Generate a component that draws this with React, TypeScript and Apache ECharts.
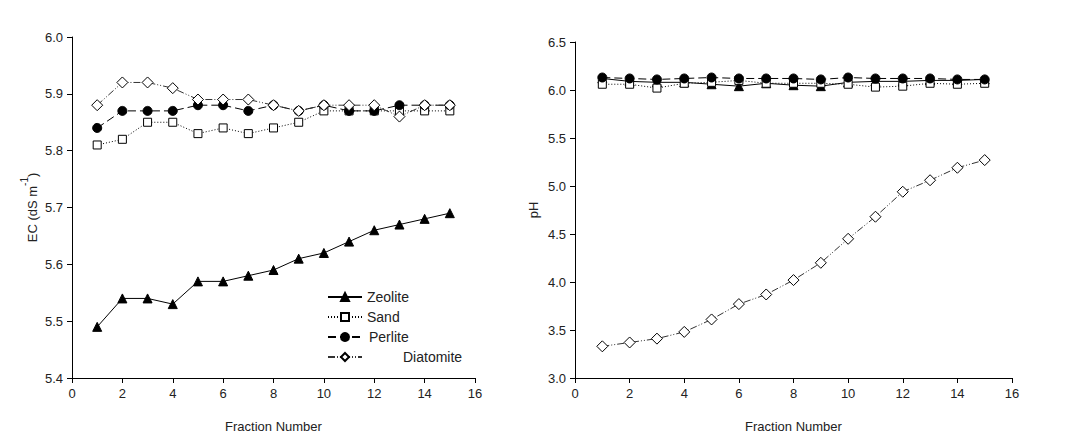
import React, { useEffect, useRef } from "react";
import * as echarts from "echarts";

const fractions = [1, 2, 3, 4, 5, 6, 7, 8, 9, 10, 11, 12, 13, 14, 15];

const ecZeolite = [5.49, 5.54, 5.54, 5.53, 5.57, 5.57, 5.58, 5.59, 5.61, 5.62, 5.64, 5.66, 5.67, 5.68, 5.69];
const ecSand = [5.81, 5.82, 5.85, 5.85, 5.83, 5.84, 5.83, 5.84, 5.85, 5.87, 5.87, 5.87, 5.87, 5.87, 5.87];
const ecPerlite = [5.84, 5.87, 5.87, 5.87, 5.88, 5.88, 5.87, 5.88, 5.87, 5.88, 5.87, 5.87, 5.88, 5.88, 5.88];
const ecDiatomite = [5.88, 5.92, 5.92, 5.91, 5.89, 5.89, 5.89, 5.88, 5.87, 5.88, 5.88, 5.88, 5.86, 5.88, 5.88];

const phZeolite = [6.12, 6.09, 6.08, 6.08, 6.06, 6.04, 6.07, 6.05, 6.04, 6.08, 6.09, 6.09, 6.1, 6.1, 6.11];
const phSand = [6.06, 6.06, 6.02, 6.07, 6.08, 6.1, 6.07, 6.07, 6.07, 6.06, 6.03, 6.04, 6.07, 6.06, 6.07];
const phPerlite = [6.13, 6.12, 6.11, 6.12, 6.13, 6.12, 6.12, 6.12, 6.11, 6.13, 6.12, 6.12, 6.12, 6.11, 6.11];
const phDiatomite = [3.33, 3.37, 3.41, 3.48, 3.61, 3.77, 3.87, 4.02, 4.2, 4.45, 4.68, 4.94, 5.06, 5.19, 5.27];

const seriesNames = ["Zeolite", "Sand", "Perlite", "Diatomite"];

const FONT = "Liberation Sans, Arial, sans-serif";

const styles: Record<string, any> = {
  Zeolite: { symbol: "triangle", symbolSize: 9, filled: true, lineType: "solid", lineColor: "#000" },
  Sand: { symbol: "rect", symbolSize: 8, filled: false, lineType: [1, 2], lineColor: "#000" },
  Perlite: { symbol: "circle", symbolSize: 9, filled: true, lineType: [8, 4], lineColor: "#000" },
  Diatomite: { symbol: "diamond", symbolSize: 11, filled: false, lineType: [7, 2, 1, 2, 1, 2], lineColor: "#333" },
};

function makeSeries(name: string, values: number[], idx: number) {
  const s = styles[name];
  return {
    type: "line",
    name,
    xAxisIndex: idx,
    yAxisIndex: idx,
    data: fractions.map((f, i) => [f, values[i]]),
    symbol: s.symbol,
    symbolSize: s.symbolSize,
    showAllSymbol: true,
    lineStyle: { color: s.lineColor, width: 1, type: s.lineType },
    itemStyle: {
      color: s.filled ? "#000" : "#fff",
      borderColor: "#000",
      borderWidth: 1,
    },
    z: name === "Diatomite" ? 3 : 2,
  };
}

const axisCommon = {
  axisLine: { show: true, lineStyle: { color: "#000", width: 1 } },
  axisTick: { show: true, inside: false, length: 5, lineStyle: { color: "#000" } },
  splitLine: { show: false },
  axisLabel: { color: "#222", fontSize: 13, fontFamily: FONT },
  nameTextStyle: { color: "#222", fontSize: 13, fontFamily: FONT },
};

const legendPad: Record<string, number> = { Zeolite: 0, Sand: 0, Perlite: 2, Diatomite: 36 };

export default function App() {
  const ref = useRef<HTMLDivElement>(null);
  useEffect(() => {
    document.body.style.margin = "0";
    const chart = echarts.init(ref.current!, null, { renderer: "svg" });
    chart.setOption({
      animation: false,
      backgroundColor: "#fff",
      grid: [
        { left: 72, top: 37, width: 403, height: 341 },
        { left: 575, top: 42, width: 437, height: 336 },
      ],
      xAxis: [0, 1].map((gi) => ({
        ...axisCommon,
        type: "value",
        gridIndex: gi,
        min: 0,
        max: 16,
        interval: 2,
        name: "Fraction Number",
        nameLocation: "middle",
        nameGap: 42,
        axisLabel: { ...axisCommon.axisLabel, margin: 9 },
      })),
      yAxis: [
        {
          ...axisCommon,
          type: "value",
          gridIndex: 0,
          min: 5.4,
          max: 6.0,
          interval: 0.1,
          axisLabel: { ...axisCommon.axisLabel, formatter: (v: number) => v.toFixed(1), margin: 9 },
          name: "{n|EC (dS m}{sup|-1}{n|)}",
          nameLocation: "middle",
          nameGap: 33,
          nameTextStyle: {
            ...axisCommon.nameTextStyle,
            rich: {
              n: { fontSize: 13, fontFamily: FONT, color: "#222", lineHeight: 20, verticalAlign: "bottom" },
              sup: { fontSize: 10, fontFamily: FONT, color: "#222", lineHeight: 10, verticalAlign: "top" },
            },
          },
        },
        {
          ...axisCommon,
          type: "value",
          gridIndex: 1,
          min: 3.0,
          max: 6.5,
          interval: 0.5,
          axisLabel: { ...axisCommon.axisLabel, formatter: (v: number) => v.toFixed(1), margin: 9 },
          name: "pH",
          nameLocation: "middle",
          nameGap: 35,
        },
      ],
      legend: {
        data: seriesNames,
        orient: "vertical",
        left: 322,
        top: 285,
        itemWidth: 34,
        itemHeight: 10,
        itemGap: 6,
        formatter: (name: string) => `{p${legendPad[name]}|${name}}`,
        textStyle: {
          color: "#222",
          fontSize: 14,
          fontFamily: FONT,
          rich: {
            p0: { fontSize: 14, fontFamily: FONT, color: "#222" },
            p2: { fontSize: 14, fontFamily: FONT, color: "#222", padding: [0, 0, 0, 2] },
            p36: { fontSize: 14, fontFamily: FONT, color: "#222", padding: [0, 0, 0, 36] },
          },
        },
        selectedMode: false,
      },
      series: [
        makeSeries("Zeolite", ecZeolite, 0),
        makeSeries("Sand", ecSand, 0),
        makeSeries("Perlite", ecPerlite, 0),
        makeSeries("Diatomite", ecDiatomite, 0),
        makeSeries("Zeolite", phZeolite, 1),
        makeSeries("Sand", phSand, 1),
        makeSeries("Perlite", phPerlite, 1),
        makeSeries("Diatomite", phDiatomite, 1),
      ],
    });
    return () => chart.dispose();
  }, []);
  return <div ref={ref} style={{ width: 1072, height: 447 }} />;
}
